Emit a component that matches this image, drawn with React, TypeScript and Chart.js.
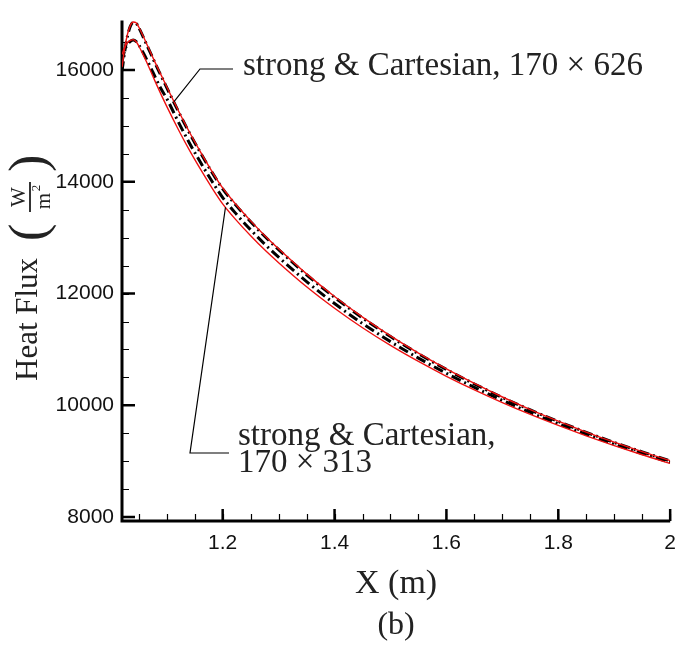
import { useEffect, useRef } from "react";
import { Chart, registerables } from "chart.js";

Chart.register(...registerables);

// Streamwise stations along the wall (m)
const stationX = [
  1.02, 1.025, 1.03, 1.035, 1.04, 1.045, 1.05, 1.06, 1.07, 1.08, 1.09, 1.1,
  1.12, 1.14, 1.16, 1.18, 1.2, 1.225, 1.25, 1.275, 1.3, 1.35, 1.4, 1.45, 1.5,
  1.55, 1.6, 1.65, 1.7, 1.75, 1.8, 1.85, 1.9, 1.95, 2.0,
];

// Wall heat flux (W/m^2), fine grid 170 x 626
const fineRed = [
  16050, 16400, 16650, 16800, 16860, 16850, 16770, 16560, 16340, 16120, 15910,
  15700, 15290, 14900, 14540, 14200, 13890, 13580, 13301, 13040, 12801, 12352,
  11947, 11578, 11242, 10935, 10652, 10391, 10149, 9925, 9717, 9522, 9340, 9170,
  9010,
];
const fineBlack = [
  15980, 16340, 16615, 16785, 16850, 16840, 16758, 16545, 16325, 16105, 15895,
  15685, 15275, 14885, 14525, 14185, 13875, 13565, 13286, 13025, 12786, 12337,
  11933, 11565, 11230, 10924, 10642, 10382, 10141, 9918, 9711, 9517, 9335, 9166,
  9006,
];

// Wall heat flux (W/m^2), coarse grid 170 x 313
const coarseRed = [
  16280, 16410, 16490, 16530, 16545, 16510, 16430, 16230, 16010, 15780, 15560,
  15350, 14950, 14575, 14230, 13905, 13605, 13305, 13035, 12783, 12553, 12122,
  11737, 11388, 11072, 10785, 10520, 10276, 10049, 9837, 9640, 9455, 9280, 9115,
  8960,
];
const coarseBlack = [
  16150, 16360, 16460, 16515, 16538, 16515, 16450, 16270, 16070, 15860, 15660,
  15490, 15086, 14705, 14354, 14023, 13719, 13415, 13141, 12886, 12652, 12214,
  11821, 11464, 11140, 10845, 10573, 10322, 10089, 9872, 9671, 9482, 9304, 9137,
  8980,
];

const xMajorTicks = [1.2, 1.4, 1.6, 1.8, 2];
const yMajorTicks = [8000, 10000, 12000, 14000, 16000];
const xMinorStep = 0.05;
const yMinorStep = 500;

const X_MIN = 1.02;
const X_MAX = 2.0;
const Y_MIN = 7930;
const Y_MAX = 16885;

const SERIF = '"Liberation Serif", "Times New Roman", serif';
const SANS = '"Liberation Sans", Arial, sans-serif';

const toPoints = (ys: number[]) => stationX.map((x, i) => ({ x, y: ys[i] }));

const interp = (ys: number[], x: number) => {
  for (let i = 0; i < stationX.length - 1; i++) {
    if (x >= stationX[i] && x <= stationX[i + 1]) {
      const t = (x - stationX[i]) / (stationX[i + 1] - stationX[i]);
      return ys[i] + t * (ys[i + 1] - ys[i]);
    }
  }
  return ys[ys.length - 1];
};

// Axis lines with inward-pointing major and minor ticks
const inwardAxes = {
  id: "inwardAxes",
  beforeDatasetsDraw(chart: any) {
    const { ctx, chartArea } = chart;
    const xs = chart.scales.x;
    const ys = chart.scales.y;
    const left = chartArea.left;
    const bottom = chartArea.bottom;
    ctx.save();
    ctx.strokeStyle = "#000";
    ctx.lineCap = "butt";

    // minor ticks
    ctx.lineWidth = 1.2;
    ctx.beginPath();
    for (let v = Math.ceil(X_MIN / xMinorStep) * xMinorStep; v <= X_MAX + 1e-9; v += xMinorStep) {
      const px = Math.round(xs.getPixelForValue(v)) + 0.5;
      ctx.moveTo(px, bottom);
      ctx.lineTo(px, bottom - 7);
    }
    for (let v = Math.ceil(Y_MIN / yMinorStep) * yMinorStep; v <= Y_MAX; v += yMinorStep) {
      const py = Math.round(ys.getPixelForValue(v)) + 0.5;
      ctx.moveTo(left, py);
      ctx.lineTo(left + 7, py);
    }
    ctx.stroke();

    // major ticks
    ctx.lineWidth = 2.5;
    ctx.beginPath();
    xMajorTicks.forEach((v) => {
      const px = xs.getPixelForValue(v);
      ctx.moveTo(px, bottom);
      ctx.lineTo(px, bottom - 12);
    });
    yMajorTicks.forEach((v) => {
      const py = ys.getPixelForValue(v);
      ctx.moveTo(left, py);
      ctx.lineTo(left + 13, py);
    });
    ctx.stroke();

    // axis lines
    ctx.lineWidth = 3;
    ctx.beginPath();
    ctx.moveTo(left, chartArea.top);
    ctx.lineTo(left, bottom);
    ctx.lineTo(chartArea.right, bottom);
    ctx.stroke();
    ctx.restore();
  },
};

// Axis titles, caption and leader-line annotations
const labels = {
  id: "labels",
  afterDraw(chart: any) {
    const { ctx, chartArea } = chart;
    const xs = chart.scales.x;
    const ys = chart.scales.y;
    const cx = (chartArea.left + chartArea.right) / 2;
    ctx.save();
    ctx.fillStyle = "#222";
    ctx.strokeStyle = "#000";

    // x title and caption
    ctx.font = `34px ${SERIF}`;
    ctx.textAlign = "center";
    ctx.textBaseline = "alphabetic";
    ctx.fillText("X (m)", cx, 593);
    ctx.font = `32px ${SERIF}`;
    ctx.fillText("(b)", cx, 634);

    // y title, rotated
    ctx.save();
    ctx.translate(37, 381);
    ctx.rotate(-Math.PI / 2);
    ctx.textAlign = "left";
    ctx.font = `31px ${SERIF}`;
    ctx.fillText("Heat Flux", 0, 0);
    ctx.font = `52px ${SERIF}`;
    ctx.fillText("(", 140, 8);
    ctx.font = `21px ${SERIF}`;
    ctx.textAlign = "center";
    ctx.fillText("W", 184, -12);
    ctx.fillText("m", 180, 13);
    ctx.font = `13px ${SERIF}`;
    ctx.fillText("2", 193, 3);
    ctx.lineWidth = 1.6;
    ctx.beginPath();
    ctx.moveTo(169, -7);
    ctx.lineTo(199, -7);
    ctx.stroke();
    ctx.textAlign = "left";
    ctx.font = `52px ${SERIF}`;
    ctx.fillText(")", 209, 8);
    ctx.restore();

    // annotation: fine grid
    ctx.font = `33px ${SERIF}`;
    ctx.textAlign = "left";
    ctx.fillText("strong & Cartesian, 170 \u00d7 626", 243, 75);
    const fx = 1.113;
    const fp = { x: xs.getPixelForValue(fx), y: ys.getPixelForValue(interp(fineRed, fx)) };
    ctx.lineWidth = 1.2;
    ctx.beginPath();
    ctx.moveTo(233, 69);
    ctx.lineTo(200, 69);
    ctx.lineTo(fp.x, fp.y);
    ctx.stroke();

    // annotation: coarse grid
    ctx.fillText("strong & Cartesian,", 238, 445);
    ctx.fillText("170 \u00d7 313", 238, 472);
    const cxv = 1.205;
    const cp = { x: xs.getPixelForValue(cxv), y: ys.getPixelForValue(interp(coarseRed, cxv)) };
    ctx.beginPath();
    ctx.moveTo(229, 453);
    ctx.lineTo(190, 453);
    ctx.lineTo(cp.x, cp.y);
    ctx.stroke();
    ctx.restore();
  },
};

export default function App() {
  const canvasRef = useRef<HTMLCanvasElement | null>(null);

  useEffect(() => {
    if (!canvasRef.current) return;
    const red = "#ee1111";
    const line = (ys: number[], color: string, width: number, dash: number[], order: number) => ({
      data: toPoints(ys),
      borderColor: color,
      borderWidth: width,
      borderDash: dash,
      pointRadius: 0,
      cubicInterpolationMode: "monotone" as const,
      order,
    });
    const chart = new Chart(canvasRef.current, {
      type: "line",
      data: {
        datasets: [
          line(fineRed, red, 1.4, [], 0),
          line(coarseRed, red, 1.4, [], 0),
          line(fineBlack, "#000", 3, [10, 4, 2, 4], 1),
          line(coarseBlack, "#000", 3, [10, 4, 2, 4], 1),
        ],
      },
      options: {
        responsive: false,
        animation: false,
        layout: { padding: { top: 10, right: 5, left: 0, bottom: 0 } },
        plugins: { legend: { display: false }, tooltip: { enabled: false } },
        scales: {
          x: {
            type: "linear",
            min: X_MIN,
            max: X_MAX,
            grid: { display: false, drawTicks: false },
            border: { display: false },
            afterBuildTicks: (s: any) => {
              s.ticks = xMajorTicks.map((value) => ({ value }));
            },
            afterFit: (s: any) => {
              s.height = 125;
            },
            ticks: {
              padding: 10,
              maxRotation: 0,
              color: "#111",
              font: { family: SANS, size: 21 },
              callback: (v: any) => String(v),
            },
          },
          y: {
            type: "linear",
            min: Y_MIN,
            max: Y_MAX,
            grid: { display: false, drawTicks: false },
            border: { display: false },
            afterBuildTicks: (s: any) => {
              s.ticks = yMajorTicks.map((value) => ({ value }));
            },
            afterFit: (s: any) => {
              s.width = 122;
            },
            ticks: {
              padding: 8,
              color: "#111",
              font: { family: SANS, size: 21 },
              callback: (v: any) => String(v),
            },
          },
        },
      },
      plugins: [inwardAxes, labels],
    });
    return () => chart.destroy();
  }, []);

  return (
    <div style={{ position: "absolute", left: 0, top: 0, width: 686, height: 646, background: "#fff" }}>
      <canvas ref={canvasRef} width={686} height={646} />
    </div>
  );
}
